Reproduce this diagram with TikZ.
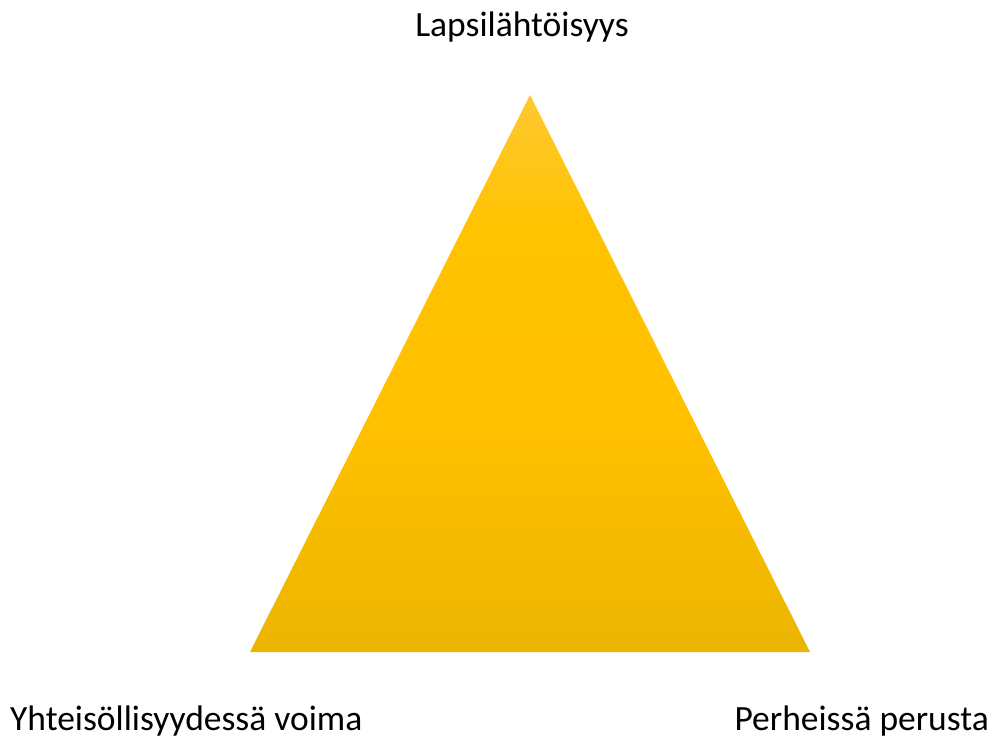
\documentclass[tikz,border=0pt]{standalone}
\usepackage{fontspec}
\setmainfont{Carlito}
\definecolor{trtop}{HTML}{FFC832}
\definecolor{trhi}{HTML}{FFC300}
\definecolor{trmid}{HTML}{FFC000}
\definecolor{trbot}{HTML}{EBB500}
\pgfdeclareverticalshading{trishade}{100bp}{color(0bp)=(trbot); color(25bp)=(trbot); color(45bp)=(trmid); color(63bp)=(trhi); color(75bp)=(trtop); color(100bp)=(trtop)}
\begin{document}
\begin{tikzpicture}[x=1pt,y=-1pt,
  lbl/.style={inner sep=0pt,font=\fontsize{35.5}{42}\selectfont,text=black}]
\useasboundingbox (0,0) rectangle (993,738);
\coordinate (apex) at (530,95);
\coordinate (bl) at (250,652);
\coordinate (br) at (810,652);
\shade[shading=trishade] (apex) -- (br) -- (bl) -- cycle;
\node[lbl,anchor=base] (top) at (522,37) {Lapsilähtöisyys};
\node[lbl,anchor=base west] (left) at (10,730) {Yhteisöllisyydessä voima};
\node[lbl,anchor=base east] (right) at (989,730) {Perheissä perusta};
\end{tikzpicture}
\end{document}
